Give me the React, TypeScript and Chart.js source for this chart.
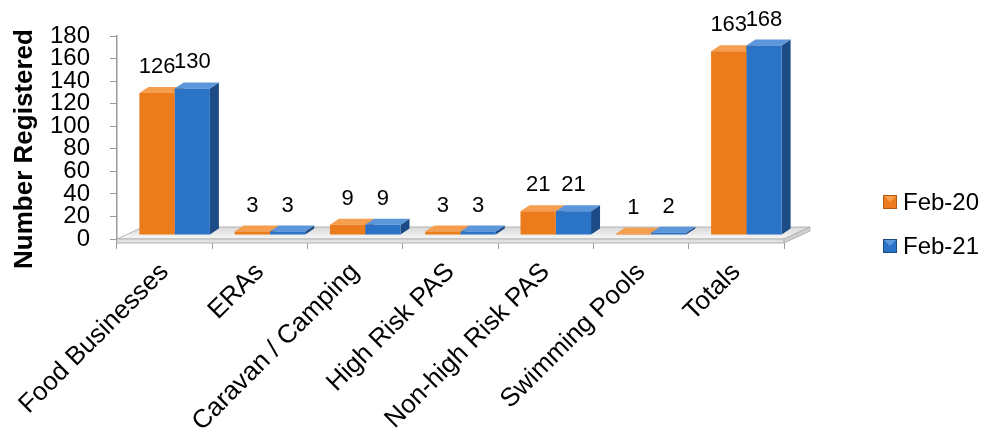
import React, { useEffect, useRef } from "react";
import { Chart, registerables } from "chart.js";

Chart.register(...registerables);

const categories = [
  "Food Businesses",
  "ERAs",
  "Caravan / Camping",
  "High Risk PAS",
  "Non-high Risk PAS",
  "Swimming Pools",
  "Totals",
];
const seriesNames = ["Feb-20", "Feb-21"];
const feb20 = [126, 3, 9, 3, 21, 1, 163];
const feb21 = [130, 3, 9, 3, 21, 2, 168];
const yMax = 180;
const yStep = 20;
const yTitle = "Number Registered";

const FONT = "'Liberation Sans', Arial, sans-serif";
const palette = [
  { front: "#EC7B1B", side: "#B0590D", top: "#F59E4E" },
  { front: "#2B73C6", side: "#1C4B85", top: "#5B97DA" },
];

const DX = 9;
const DY = 6;
const SHIFT_X = 10;
const SHIFT_Y = -4;
const FLOOR_DX = 26;
const FLOOR_DY = 12;

function poly(ctx: CanvasRenderingContext2D, pts: number[][], fill: any, stroke?: string) {
  ctx.beginPath();
  ctx.moveTo(pts[0][0], pts[0][1]);
  for (let i = 1; i < pts.length; i++) ctx.lineTo(pts[i][0], pts[i][1]);
  ctx.closePath();
  ctx.fillStyle = fill;
  ctx.fill();
  if (stroke) {
    ctx.strokeStyle = stroke;
    ctx.lineWidth = 1;
    ctx.stroke();
  }
}

const threeDPlugin = {
  id: "threeD",
  beforeDatasetsDraw(chart: any) {
    const ctx: CanvasRenderingContext2D = chart.ctx;
    const { left, right, bottom } = chart.chartArea;
    ctx.save();
    const grad = ctx.createLinearGradient(0, bottom - FLOOR_DY, 0, bottom);
    grad.addColorStop(0, "#d8d8d8");
    grad.addColorStop(1, "#f8f8f8");
    poly(
      ctx,
      [
        [left, bottom],
        [right, bottom],
        [right + FLOOR_DX, bottom - FLOOR_DY],
        [left + FLOOR_DX, bottom - FLOOR_DY],
      ],
      grad,
      "#b4b4b4"
    );
    poly(
      ctx,
      [
        [left, bottom],
        [right, bottom],
        [right, bottom + 4],
        [left, bottom + 4],
      ],
      "#e2e2e2",
      "#b4b4b4"
    );
    poly(
      ctx,
      [
        [right, bottom],
        [right + FLOOR_DX, bottom - FLOOR_DY],
        [right + FLOOR_DX, bottom - FLOOR_DY + 4],
        [right, bottom + 4],
      ],
      "#cfcfcf",
      "#b4b4b4"
    );
    ctx.restore();

    ctx.save();
    ctx.translate(SHIFT_X, SHIFT_Y);
    chart.data.datasets.forEach((ds: any, i: number) => {
      const meta = chart.getDatasetMeta(i);
      const c = palette[i];
      meta.data.forEach((bar: any) => {
        const { x, y, base, width } = bar.getProps(["x", "y", "base", "width"], true);
        const l = x - width / 2;
        const r = x + width / 2;
        poly(ctx, [[r, y], [r + DX, y - DY], [r + DX, base - DY], [r, base]], c.side);
        poly(ctx, [[l, y], [l + DX, y - DY], [r + DX, y - DY], [r, y]], c.top);
      });
    });
    ctx.restore();
    ctx.save();
    ctx.translate(SHIFT_X, SHIFT_Y);
  },
  afterDatasetsDraw(chart: any) {
    const ctx: CanvasRenderingContext2D = chart.ctx;
    ctx.restore();
    ctx.save();
    ctx.font = `22px ${FONT}`;
    ctx.fillStyle = "#000";
    ctx.textAlign = "center";
    ctx.textBaseline = "bottom";
    chart.data.datasets.forEach((ds: any, i: number) => {
      const meta = chart.getDatasetMeta(i);
      meta.data.forEach((bar: any, j: number) => {
        const { x, y } = bar.getProps(["x", "y"], true);
        ctx.fillText(String(ds.data[j]), x + SHIFT_X, y + SHIFT_Y - DY - 9);
      });
    });
    ctx.restore();
  },
  afterDraw(chart: any) {
    const ctx: CanvasRenderingContext2D = chart.ctx;
    ctx.save();
    ctx.translate(25, 149);
    ctx.rotate(-Math.PI / 2);
    ctx.font = `bold 26px ${FONT}`;
    ctx.fillStyle = "#000";
    ctx.textAlign = "center";
    ctx.textBaseline = "middle";
    ctx.fillText(yTitle, 0, 0);
    ctx.restore();

    ctx.save();
    const bx = 883;
    const centers = [202, 246];
    ctx.font = `24px ${FONT}`;
    ctx.textBaseline = "middle";
    ctx.textAlign = "left";
    chart.data.datasets.forEach((ds: any, i: number) => {
      const cy = centers[i];
      const c = palette[i];
      ctx.fillStyle = c.front;
      ctx.fillRect(bx, cy - 7, 14, 14);
      ctx.strokeStyle = c.side;
      ctx.lineWidth = 1;
      ctx.strokeRect(bx + 0.5, cy - 6.5, 13, 13);
      ctx.fillStyle = c.top;
      ctx.beginPath();
      ctx.moveTo(bx + 1, cy - 6);
      ctx.lineTo(bx + 13, cy - 6);
      ctx.lineTo(bx + 7, cy);
      ctx.closePath();
      ctx.fill();
      ctx.fillStyle = "#000";
      ctx.fillText(ds.label, bx + 20, cy + 1);
    });
    ctx.restore();
  },
};

export default function App() {
  const ref = useRef<HTMLCanvasElement | null>(null);
  useEffect(() => {
    if (!ref.current) return;
    const chart = new Chart(ref.current, {
      type: "bar",
      data: {
        labels: categories,
        datasets: [
          { label: seriesNames[0], data: feb20, backgroundColor: palette[0].front, borderWidth: 0 },
          { label: seriesNames[1], data: feb21, backgroundColor: palette[1].front, borderWidth: 0 },
        ],
      },
      options: {
        responsive: false,
        animation: false,
        layout: { padding: { top: 36, right: 205, left: 0, bottom: 0 } },
        datasets: { bar: { categoryPercentage: 0.74, barPercentage: 1.0 } },
        plugins: {
          legend: { display: false },
          tooltip: { enabled: false },
        },
        scales: {
          x: {
            grid: {
              display: true,
              offset: true,
              drawOnChartArea: false,
              drawTicks: true,
              tickLength: 10,
              color: "#9a9a9a",
            },
            border: { display: false },
            ticks: {
              autoSkip: false,
              minRotation: 45,
              maxRotation: 45,
              padding: 8,
              color: "#000",
              font: { family: FONT, size: 26 },
            },
            afterFit(scale: any) {
              scale.height = 435 - 239;
            },
          },
          y: {
            min: 0,
            max: yMax,
            ticks: {
              stepSize: yStep,
              autoSkip: false,
              color: "#000",
              padding: 20,
              font: { family: FONT, size: 24, lineHeight: 1 },
            },
            grid: {
              display: true,
              drawOnChartArea: false,
              drawTicks: true,
              tickLength: 7,
              color: "#9a9a9a",
            },
            border: { display: true, color: "#9a9a9a", width: 1.5 },
            afterFit(scale: any) {
              scale.width = 117;
            },
          },
        },
      },
      plugins: [threeDPlugin],
    } as any);
    return () => chart.destroy();
  }, []);
  return (
    <div style={{ position: "fixed", left: 0, top: 0, width: 989, height: 435, background: "#fff" }}>
      <canvas ref={ref} width={989} height={435} />
    </div>
  );
}
